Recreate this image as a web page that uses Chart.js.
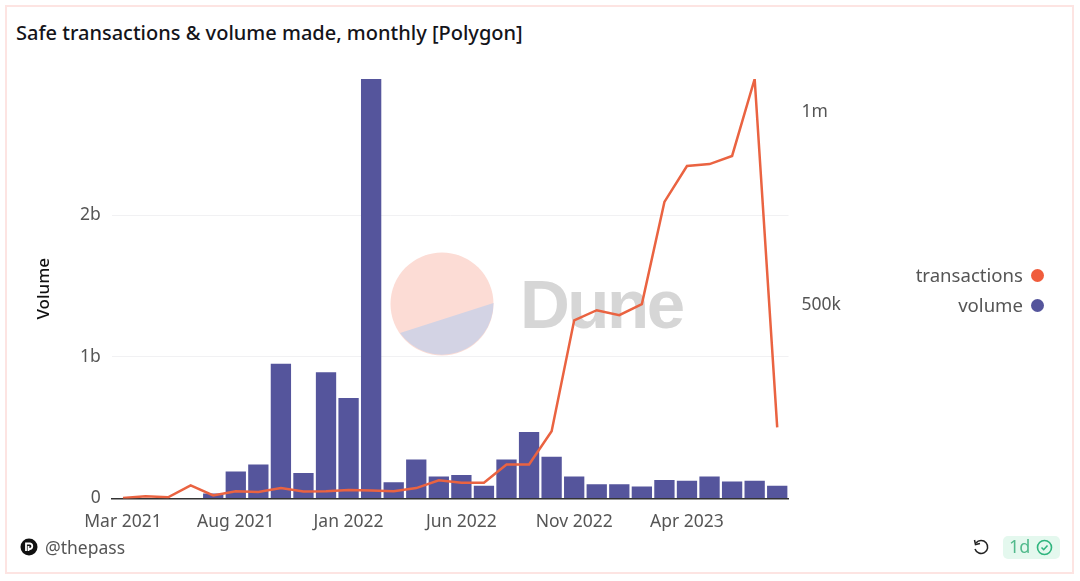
<!DOCTYPE html>
<html>
<head>
<meta charset="utf-8">
<title>Safe transactions & volume made, monthly [Polygon]</title>
<script src="https://cdn.jsdelivr.net/npm/chart.js@4"></script>
<style>
  html, body { margin: 0; padding: 0; background: #fff; }
  body { width: 1080px; height: 581px; overflow: hidden; position: relative; font-family: "Noto Sans", sans-serif; }
  #frame { position: absolute; left: 5px; top: 5px; width: 1065px; height: 565px; border: 2px solid #fde4e2; }
  #title { position: absolute; left: 16px; top: 19px; font-size: 20px; font-weight: 500; color: #14141a; white-space: nowrap; }
  #watermark { position: absolute; left: 385px; top: 245px; }
  #wordmark { position: absolute; left: 520px; top: 255px; font-family: "Liberation Sans", sans-serif; font-size: 69px; line-height: 100px; font-weight: 700; letter-spacing: -2.500px; color: #d6d6d6; }
  canvas { position: absolute; left: 0; top: 0; }
  .legend { position: absolute; right: 57px; font-size: 18.600px; color: #555; white-space: nowrap; }
  .dot { position: absolute; left: 1031px; width: 13px; height: 13px; border-radius: 50%; }
  #author { position: absolute; left: 45px; top: 535px; font-size: 17.500px; color: #555; }
  #logo { position: absolute; left: 20px; top: 538px; }
  #refresh { position: absolute; left: 971px; top: 537px; }
  #badge { position: absolute; left: 1003px; top: 536px; width: 57px; height: 23px; background: #e4f8ee; border-radius: 5px; }
  #badge span { position: absolute; left: 6px; top: -2px; font-size: 18px; color: #52ba8c; }
  #badge svg { position: absolute; left: 33px; top: 3px; }
</style>
</head>
<body>
<div id="frame"></div>
<div id="title">Safe transactions &amp; volume made, monthly [Polygon]</div>
<svg id="watermark" width="115" height="120" viewBox="0 0 115 120">
  <circle cx="57" cy="59" r="51.5" fill="#fcdcd5"/>
  <path d="M15 88 L108.500 58 A51.500 51.500 0 0 1 15 88 Z" fill="#d3d3e4"/>
</svg>
<div id="wordmark">Dune</div>
<canvas id="myChart" width="1080" height="581"></canvas>
<div id="legend"></div>
<svg id="logo" width="18" height="18" viewBox="0 0 18 18">
  <circle cx="9" cy="9" r="8.500" fill="#111"/>
  <path d="M6 13 V5.500 H10 A2.800 2.800 0 0 1 10 11 H8.500 M8.500 8 V13" fill="none" stroke="#fff" stroke-width="1.800"/>
</svg>
<div id="author">@thepass</div>
<svg id="refresh" width="20" height="20" viewBox="0 0 20 20">
  <path d="M5 6 A6.500 6.500 0 1 1 4 12" fill="none" stroke="#222" stroke-width="1.500"/>
  <path d="M3.500 3 L4.500 7.500 L9 6.500" fill="none" stroke="#222" stroke-width="1.500"/>
</svg>
<div id="badge">
  <span>1d</span>
  <svg width="17" height="17" viewBox="0 0 17 17">
    <circle cx="8.500" cy="8.500" r="7" fill="none" stroke="#2fb57e" stroke-width="1.600"/>
    <path d="M5.500 8.500 L7.700 10.700 L11.500 6.500" fill="none" stroke="#2fb57e" stroke-width="1.600"/>
  </svg>
</div>
<script>
// Data
const months = [
  "Mar 2021", "Apr 2021", "May 2021", "Jun 2021", "Jul 2021", "Aug 2021",
  "Sep 2021", "Oct 2021", "Nov 2021", "Dec 2021", "Jan 2022", "Feb 2022",
  "Mar 2022", "Apr 2022", "May 2022", "Jun 2022", "Jul 2022", "Aug 2022",
  "Sep 2022", "Oct 2022", "Nov 2022", "Dec 2022", "Jan 2023", "Feb 2023",
  "Mar 2023", "Apr 2023", "May 2023", "Jun 2023", "Jul 2023", "Aug 2023",
];
const volume = [
  0, 0, 0, 0, 0.035e9, 0.19e9, 0.24e9, 0.95e9, 0.18e9, 0.89e9,
  0.71e9, 2.96e9, 0.115e9, 0.275e9, 0.155e9, 0.165e9, 0.09e9, 0.275e9, 0.47e9, 0.295e9,
  0.155e9, 0.1e9, 0.1e9, 0.085e9, 0.13e9, 0.125e9, 0.155e9, 0.12e9, 0.125e9, 0.09e9,
];
const transactions = [
  1000, 6000, 3000, 34000, 8000, 19000, 17000, 27000, 18000, 19000,
  22000, 21000, 19000, 27000, 47000, 41000, 41000, 88000, 88000, 174000,
  461000, 487000, 474000, 503000, 767000, 860000, 865000, 886000, 1085000, 184000,
];
const seriesNames = ["transactions", "volume"];
const seriesColors = ["#ea6341", "#55559c"];
const legendDots = ["#f05c3c", "#55559c"];
const volumeTicks = [0, 1e9, 2e9];
const transactionTicks = [500000, 1000000];

const tickColor = "#555";
const tickFont = { family: "'Noto Sans', sans-serif", size: 17.5 };

// Legend sits to the right of the plot, text before the dot
document.getElementById("legend").innerHTML = seriesNames
  .map((name, i) => {
    const y = 275 + i * 30;
    return `<div class="legend" style="top:${y - 13}px">${name}</div>` +
      `<div class="dot" style="top:${y - 6.5}px;background:${legendDots[i]}"></div>`;
  })
  .join("");

const ctx = document.getElementById("myChart").getContext("2d");
new Chart(ctx, {
  data: {
    labels: months,
    datasets: [
      {
        type: "line",
        label: seriesNames[0],
        data: transactions,
        yAxisID: "y1",
        borderColor: seriesColors[0],
        borderWidth: 2.5,
        pointRadius: 0,
        tension: 0,
        order: 1,
      },
      {
        type: "bar",
        label: seriesNames[1],
        data: volume,
        yAxisID: "y",
        backgroundColor: seriesColors[1],
        categoryPercentage: 1,
        barPercentage: 0.9,
        order: 2,
      },
    ],
  },
  options: {
    responsive: false,
    animation: false,
    layout: { padding: { top: 79 } },
    plugins: {
      legend: { display: false },
      tooltip: { enabled: false },
    },
    scales: {
      x: {
        grid: { display: false },
        border: { color: "#333", width: 1.5 },
        afterFit: (axis) => { axis.height = 82.5; },
        ticks: {
          autoSkip: false,
          maxRotation: 0,
          padding: 5,
          color: tickColor,
          font: tickFont,
          callback: function (value, i) {
            return i % 5 === 0 ? this.getLabelForValue(value) : "";
          },
        },
      },
      y: {
        position: "left",
        min: 0,
        max: 2.96e9,
        afterFit: (axis) => { axis.width = 111.7; },
        afterBuildTicks: (axis) => { axis.ticks = volumeTicks.map((value) => ({ value })); },
        grid: { color: "#f1f1f3", drawTicks: false },
        border: { display: false },
        title: {
          display: true,
          text: "Volume",
          color: "#111",
          font: { family: "'Noto Sans', sans-serif", size: 17, weight: "500" },
          padding: { top: 34, bottom: 0 },
        },
        ticks: {
          padding: 11,
          color: tickColor,
          font: tickFont,
          callback: (value) => (value === 0 ? "0" : value / 1e9 + "b"),
        },
      },
      y1: {
        position: "right",
        min: 0,
        max: 1085000,
        afterFit: (axis) => { axis.width = 291.5; },
        afterBuildTicks: (axis) => { axis.ticks = transactionTicks.map((value) => ({ value })); },
        grid: { display: false },
        border: { display: false },
        ticks: {
          padding: 5,
          color: tickColor,
          font: tickFont,
          callback: (value) => (value >= 1000000 ? value / 1000000 + "m" : value / 1000 + "k"),
        },
      },
    },
  },
});
</script>
</body>
</html>
